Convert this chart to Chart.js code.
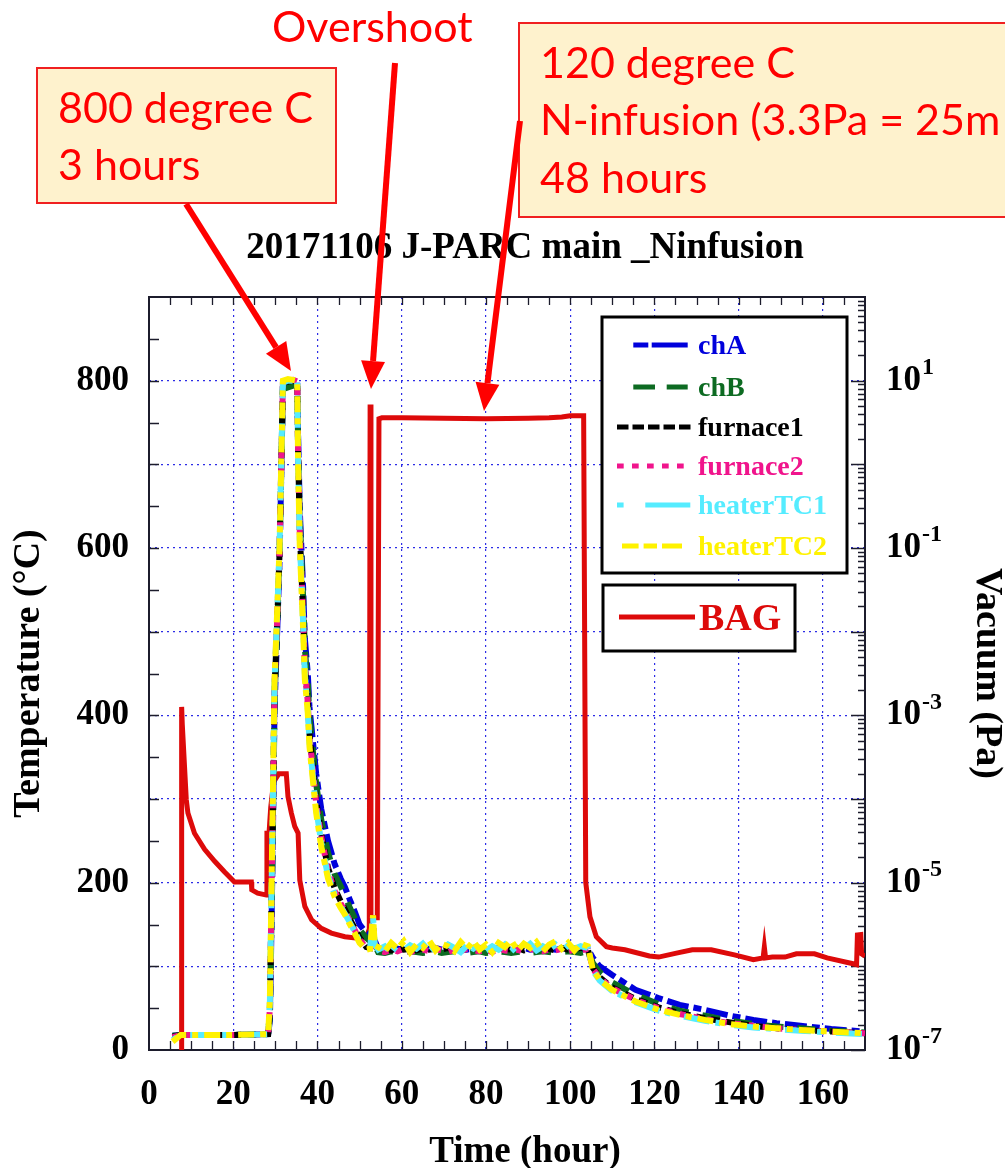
<!DOCTYPE html>
<html>
<head>
<meta charset="utf-8">
<title>20171106 J-PARC main _Ninfusion</title>
<script src="https://cdn.jsdelivr.net/npm/chart.js@4.4.1/dist/chart.umd.min.js"></script>
<style>
  html, body { margin: 0; padding: 0; background: #fff; }
  canvas { display: block; }
</style>
</head>
<body>
<canvas id="furnaceChart" width="1005" height="1168"></canvas>
<script>
"use strict"
//furnace log: six thermocouples (degC, left axis) + BAG vacuum gauge (Pa, log right axis)
var SERIF = "'Liberation Serif', 'Times New Roman', serif";
var SANS = "Lato, 'Open Sans', sans-serif";

//time (hour) shared by all thermocouples
var tempHours = [
  5.6, 7.5, 10, 15, 20, 25, 28.3,                                  //before heating
  28.7, 28.9, 29.4, 29.8, 30.4, 31.0, 31.4, 31.8,                  //ramp up
  33.0, 34.2, 35.2,                                                //800 C hold
  35.4, 35.8, 36.6, 37.0, 37.7, 38.1, 38.9, 39.7, 40.9, 42.5,      //cool down
  44.1, 45.5, 46.5, 47.5, 48.8, 50.0, 51.6, 52.5, 53.2, 53.6,
  54.4, 56, 57.5, 59, 60.5, 62, 63.5, 65, 66.5, 68, 69.5, 71,      //120 C infusion
  72.5, 74, 75.5, 77, 78.5, 80, 81.5, 83, 84.5, 86, 87.5, 89,
  90.5, 92, 93.5, 95, 96.5, 98, 99.5, 101, 102.5, 104.2,
  105.4, 107, 109.9, 115.5, 121, 126, 132, 138, 143.5, 149, 154.7, 162, 170 //final cool down
];

var chA = [
  17, 18, 18, 18, 18, 18.5, 19,
  35, 90, 250, 405, 495, 585, 688, 792,
  798, 800, 798,
  735, 645, 552, 492, 450, 410, 370, 330, 288, 250,
  222, 205, 195, 182, 166, 150, 140, 137, 138, 131,
  121, 120, 122, 121, 120, 122, 121, 120, 121, 122, 120, 121,
  122, 121, 120, 121, 122, 120, 121, 122, 121, 120, 121, 122,
  120, 121, 122, 121, 120, 121, 122, 121, 120, 121,
  110, 100, 90, 72, 62, 54, 48, 41, 36, 32, 29, 25, 22
];
var chB = [
  17, 18, 18, 18, 18, 18.5, 19,
  40, 100, 260, 415, 500, 590, 690, 790,
  792, 794, 796,
  725, 635, 540, 480, 438, 398, 358, 318, 275, 236,
  210, 196, 185, 172, 158, 144, 134, 130, 135, 125,
  117, 116, 118, 117, 116, 118, 117, 116, 117, 118, 116, 117,
  118, 117, 116, 117, 118, 116, 117, 118, 117, 116, 117, 118,
  116, 117, 118, 117, 116, 117, 118, 117, 116, 118,
  104, 93, 81, 66, 55, 47, 41, 35, 31, 28, 26, 23, 21
];
var furnace1 = [
  16, 18, 18, 18, 18, 18.5, 19,
  48, 115, 280, 430, 505, 595, 695, 796,
  799, 800, 798,
  715, 620, 520, 460, 418, 378, 338, 298, 258, 218,
  193, 178, 168, 158, 146, 134, 123, 122, 148, 125,
  120, 121, 119, 122, 120, 121, 119, 122, 120, 121, 120, 122,
  119, 121, 120, 122, 121, 119, 122, 120, 121, 120, 122, 119,
  121, 122, 120, 121, 119, 122, 120, 121, 122, 120,
  98, 87, 75, 61, 51, 44, 38, 33, 29, 26, 24, 22, 20
];
var furnace2 = [
  15, 18, 18, 18, 18, 18.5, 19,
  50, 120, 285, 435, 510, 598, 698, 797,
  800, 801, 799,
  712, 618, 518, 458, 415, 375, 335, 295, 255, 214,
  190, 175, 166, 156, 144, 132, 122, 121, 150, 124,
  119, 117, 120, 118, 121, 117, 119, 120, 118, 121, 119, 117,
  120, 118, 121, 119, 118, 120, 117, 121, 119, 118, 120, 117,
  121, 119, 118, 120, 119, 121, 118, 120, 119, 121,
  97, 86, 74, 60, 50, 43, 37, 32, 29, 26, 24, 22, 20
];
var heaterTC1 = [
  12, 18, 18, 18, 18, 18.5, 19,
  55, 125, 290, 440, 515, 600, 700, 798,
  800, 800, 799,
  705, 610, 510, 450, 408, 368, 328, 288, 248, 208,
  186, 172, 163, 154, 142, 130, 121, 122, 158, 126,
  120, 124, 117, 126, 119, 125, 121, 127, 118, 124, 120, 126,
  122, 117, 125, 121, 127, 119, 124, 120, 126, 118, 125, 121,
  127, 119, 124, 120, 126, 118, 125, 121, 124, 122,
  95, 83, 71, 57, 47, 41, 35, 30, 27, 25, 23, 21, 19
];
var heaterTC2 = [
  10, 18, 18, 18, 18, 18.5, 19,
  60, 131, 299, 443, 520, 602, 702, 800,
  802, 801, 800,
  700, 602, 502, 443, 403, 363, 323, 283, 243, 205,
  183, 170, 162, 152, 140, 128, 120, 121, 161, 125,
  123, 118, 128, 121, 130, 117, 126, 122, 131, 119, 127, 124,
  118, 129, 121, 130, 120, 126, 117, 128, 123, 131, 119, 127,
  122, 129, 118, 126, 130, 121, 128, 119, 127, 124,
  96, 84, 72, 58, 48, 42, 36, 31, 28, 26, 24, 22, 20
];

//BAG vacuum gauge
var bagHours = [
  7.7, 7.75, 7.9, 8.85, 9.24, 10.8, 13.2, 15.6, 17.9, 20.3, 24.3, 24.4, 25.8, 27.9,
  28.0, 28.5, 28.9, 29.6, 30.8, 31.4, 32.6, 33.0, 33.8, 34.6, 35.4,
  35.8, 37.0, 38.6, 40.9, 43.3, 46.5, 49.6, 51.6,
  52.3, 52.5, 52.7, 54.2, 54.6, 55.3, 60, 70, 80, 90, 95, 98, 100, 103.2,
  103.7, 104.7, 106.2, 108.6, 110, 113, 118.8, 121, 125.5, 129, 133.5, 139, 143.5,
  145.8, 146.1, 146.4, 148, 151, 153.7, 158, 161, 168, 168.2, 169, 169.2, 170
];
var bagPa = [
  8e-8, 1.26e-3, 7.8e-4, 9.8e-5, 6.8e-5, 3.9e-5, 2.5e-5, 1.8e-5, 1.35e-5, 1.02e-5, 1.02e-5, 8.2e-6, 7.5e-6, 7.1e-6,
  3.9e-5, 3.9e-5, 7.9e-5, 1.6e-4, 2.0e-4, 2.0e-4, 2.0e-4, 1.07e-4, 6.8e-5, 4.7e-5, 3.9e-5,
  1.07e-5, 5.2e-6, 3.6e-6, 2.85e-6, 2.5e-6, 2.26e-6, 2.17e-6, 2.19e-6,
  2.8e-6, 5.2, 3.8e-6, 3.8e-6, 3.5, 3.6, 3.6, 3.55, 3.5, 3.55, 3.6, 3.67, 3.8, 3.8,
  1.0e-5, 3.9e-6, 2.26e-6, 1.72e-6, 1.66e-6, 1.58e-6, 1.33e-6, 1.29e-6, 1.45e-6, 1.58e-6, 1.58e-6, 1.37e-6, 1.2e-6,
  1.26e-6, 1.7e-6, 1.26e-6, 1.29e-6, 1.29e-6, 1.41e-6, 1.41e-6, 1.26e-6, 1.05e-6, 2.37e-6, 2.4e-6, 1.41e-6, 1.32e-6
];

var vacExponents = [1, -1, -3, -5, -7];//right axis labels 10^n

//series styles, top-most first
var names = ["heaterTC2", "heaterTC1", "furnace2", "furnace1", "chB", "chA"];
var values = [heaterTC2, heaterTC1, furnace2, furnace1, chB, chA];
var colors = ["#fff200", "#55ecff", "#f0148c", "#000000", "#0d6b22", "#0000dc"];
var dashes = [[16, 6, 6, 6], [5, 14, 26, 6], [6, 8], [9, 6], [18, 14], [8, 5, 22, 5]];
var bagColor = "#dd0a0a";

function toPoints(xs, ys) {
  return xs.map(function(x, i) { return {x: x, y: ys[i]}; });
}

var datasets = names.map(function(n, i) {
  return {
    label: n,
    data: toPoints(tempHours, values[i]),
    yAxisID: "y",
    borderColor: colors[i],
    borderWidth: 6,
    borderDash: dashes[i],
    pointRadius: 0,
    tension: 0
  };
});
datasets.push({
  label: "BAG",
  data: toPoints(bagHours, bagPa),
  yAxisID: "y2",
  borderColor: bagColor,
  borderWidth: 5,
  pointRadius: 0,
  tension: 0
});

//inward ticks + frame
var framePlugin = {
  id: "frame",
  beforeDatasetsDraw: function(chart) {
    var ctx = chart.ctx, a = chart.chartArea;
    var sx = chart.scales.x, sy = chart.scales.y, sv = chart.scales.y2;
    ctx.save();
    ctx.strokeStyle = "#1c1c2c";
    ctx.lineWidth = 1.3;
    ctx.beginPath();
    for (var h = 5; h < 170; h += 5) {
      var px = Math.round(sx.getPixelForValue(h)) + 0.5;
      ctx.moveTo(px, a.bottom); ctx.lineTo(px, a.bottom - 9);
      ctx.moveTo(px, a.top); ctx.lineTo(px, a.top + 8);
    }
    for (var t = 50; t < 900; t += 50) {
      var py = Math.round(sy.getPixelForValue(t)) + 0.5;
      ctx.moveTo(a.left, py); ctx.lineTo(a.left + 10, py);
    }
    for (var e = -7; e < 2; e++) {
      for (var m = 1; m < 10; m++) {
        var pv = Math.round(sv.getPixelForValue(m * Math.pow(10, e))) + 0.5;
        ctx.moveTo(a.right, pv); ctx.lineTo(a.right - (m === 1 ? 14 : 7), pv);
      }
    }
    ctx.stroke();
    ctx.lineWidth = 2;
    ctx.strokeRect(a.left, a.top, a.right - a.left, a.bottom - a.top);
    ctx.restore();
  }
};

function arrow(ctx, x1, y1, x2, y2) {
  var ang = Math.atan2(y2 - y1, x2 - x1), hl = 28, hw = 12;
  var bx = x2 - hl * Math.cos(ang), by = y2 - hl * Math.sin(ang);
  ctx.beginPath();
  ctx.moveTo(x1, y1); ctx.lineTo(bx, by);
  ctx.stroke();
  ctx.beginPath();
  ctx.moveTo(x2, y2);
  ctx.lineTo(bx + hw * Math.sin(ang), by - hw * Math.cos(ang));
  ctx.lineTo(bx - hw * Math.sin(ang), by + hw * Math.cos(ang));
  ctx.closePath();
  ctx.fill();
}

//right axis labels, legend, titles and annotations
var decorPlugin = {
  id: "decor",
  afterDraw: function(chart) {
    var ctx = chart.ctx, sv = chart.scales.y2;
    ctx.save();
    //10^n labels
    ctx.fillStyle = "#000";
    ctx.textAlign = "left";
    ctx.textBaseline = "middle";
    vacExponents.forEach(function(k) {
      var py = sv.getPixelForValue(Math.pow(10, k));
      ctx.font = "bold 35px " + SERIF;
      ctx.fillText("10", 886, py);
      var w = ctx.measureText("10").width;
      ctx.font = "bold 24px " + SERIF;
      ctx.fillText(String(k), 887 + w, py - 13);
    });

    //legend
    ctx.fillStyle = "#fff";
    ctx.fillRect(602, 317, 245, 256);
    ctx.lineWidth = 3;
    ctx.strokeStyle = "#000";
    ctx.strokeRect(602, 317, 245, 256);
    var legNames = ["chA", "chB", "furnace1", "furnace2", "heaterTC1", "heaterTC2"];
    var legColors = ["#0000dc", "#0d6b22", "#000000", "#f0148c", "#55ecff", "#fff200"];
    var legDash = [[0, 16.3, 15, 3.4, 36, 60], [0, 16.3, 21.7, 11.7, 21, 60], [11.5, 4], [6.7, 8.3],
                   [6.6, 21.7, 45, 60], [0, 5, 16.6, 5, 13.4, 5, 20, 60]];
    var legY = [345, 387, 427, 466, 505, 546];
    ctx.font = "bold 28px " + SERIF;
    legNames.forEach(function(n, i) {
      ctx.strokeStyle = legColors[i];
      ctx.lineWidth = 5;
      ctx.setLineDash(legDash[i]);
      ctx.beginPath();
      ctx.moveTo(617, legY[i]); ctx.lineTo(692, legY[i]);
      ctx.stroke();
      ctx.fillStyle = legColors[i];
      ctx.fillText(n, 698, legY[i] + 2);
    });
    ctx.setLineDash([]);
    ctx.fillStyle = "#fff";
    ctx.fillRect(603, 585, 192, 66);
    ctx.lineWidth = 3;
    ctx.strokeStyle = "#000";
    ctx.strokeRect(603, 585, 192, 66);
    ctx.strokeStyle = bagColor;
    ctx.lineWidth = 5;
    ctx.beginPath();
    ctx.moveTo(619, 617); ctx.lineTo(695, 617);
    ctx.stroke();
    ctx.fillStyle = bagColor;
    ctx.font = "bold 38px " + SERIF;
    ctx.fillText("BAG", 699, 620);

    //title and x axis title
    ctx.fillStyle = "#000";
    ctx.textAlign = "center";
    ctx.textBaseline = "alphabetic";
    ctx.font = "bold 37px " + SERIF;
    ctx.fillText("20171106 J-PARC main _Ninfusion", 525, 258);
    ctx.fillText("Time (hour)", 525, 1162);

    //annotation boxes
    ctx.fillStyle = "#fef2cd";
    ctx.strokeStyle = "#f02020";
    ctx.lineWidth = 2;
    ctx.fillRect(37, 68, 299, 135);
    ctx.strokeRect(37, 68, 299, 135);
    ctx.fillRect(519, 23, 500, 194);
    ctx.strokeRect(519, 23, 500, 194);
    ctx.fillStyle = "#ff0000";
    ctx.textAlign = "left";
    ctx.font = "43px " + SANS;
    ctx.fillText("800 degree C", 58, 123);
    ctx.fillText("3 hours", 58, 180);
    ctx.fillText("120 degree C", 540, 78);
    ctx.fillText("N-infusion (3.3Pa = 25m", 540, 135);
    ctx.fillText("48 hours", 540, 193);
    ctx.fillText("Overshoot", 272, 42);

    //arrows
    ctx.strokeStyle = "#ff0000";
    ctx.lineWidth = 6;
    arrow(ctx, 186, 204, 291, 371);
    arrow(ctx, 395, 63, 371, 389);
    arrow(ctx, 520, 121, 484, 411);
    ctx.restore();
  }
};

var gridStyle = {color: "#2c2ce6", lineWidth: 1.2, drawTicks: false};
var tickFont = {family: SERIF, size: 35, weight: "bold"};
var titleFont = {family: SERIF, size: 38, weight: "bold"};

var ctxC = document.getElementById("furnaceChart");
var furnaceChart = new Chart(ctxC, {
  type: "line",
  data: {datasets: datasets},
  options: {
    responsive: false,
    animation: false,
    layout: {padding: {top: 297, left: 0, right: 0, bottom: 0}},
    plugins: {legend: {display: false}, title: {display: false}, tooltip: {enabled: false}},
    scales: {
      x: {
        type: "linear", min: 0, max: 170,
        ticks: {stepSize: 20, includeBounds: false, padding: 24, color: "#000", font: tickFont},
        grid: gridStyle,
        border: {display: false, dash: [2, 4]},
        afterFit: function(s) { s.height = 118; }
      },
      y: {
        position: "left", min: 0, max: 900,
        ticks: {
          stepSize: 100, padding: 20, color: "#000", font: tickFont,
          callback: function(v) { return v % 200 === 0 ? v : ""; }
        },
        grid: gridStyle,
        border: {display: false, dash: [2, 4]},
        title: {display: true, text: "Temperature (°C)", color: "#000", font: titleFont, padding: {top: 6, bottom: 0}},
        afterFit: function(s) { s.width = 149; }
      },
      y2: {
        type: "logarithmic", position: "right", min: 1e-7, max: 100,
        ticks: {display: false},
        grid: {display: false},
        border: {display: false},
        title: {display: true, text: "Vacuum (Pa)", color: "#000", font: titleFont, padding: {top: -5, bottom: 0}},
        afterFit: function(s) { s.width = 140; }
      }
    }
  },
  plugins: [framePlugin, decorPlugin]
});
</script>
</body>
</html>
